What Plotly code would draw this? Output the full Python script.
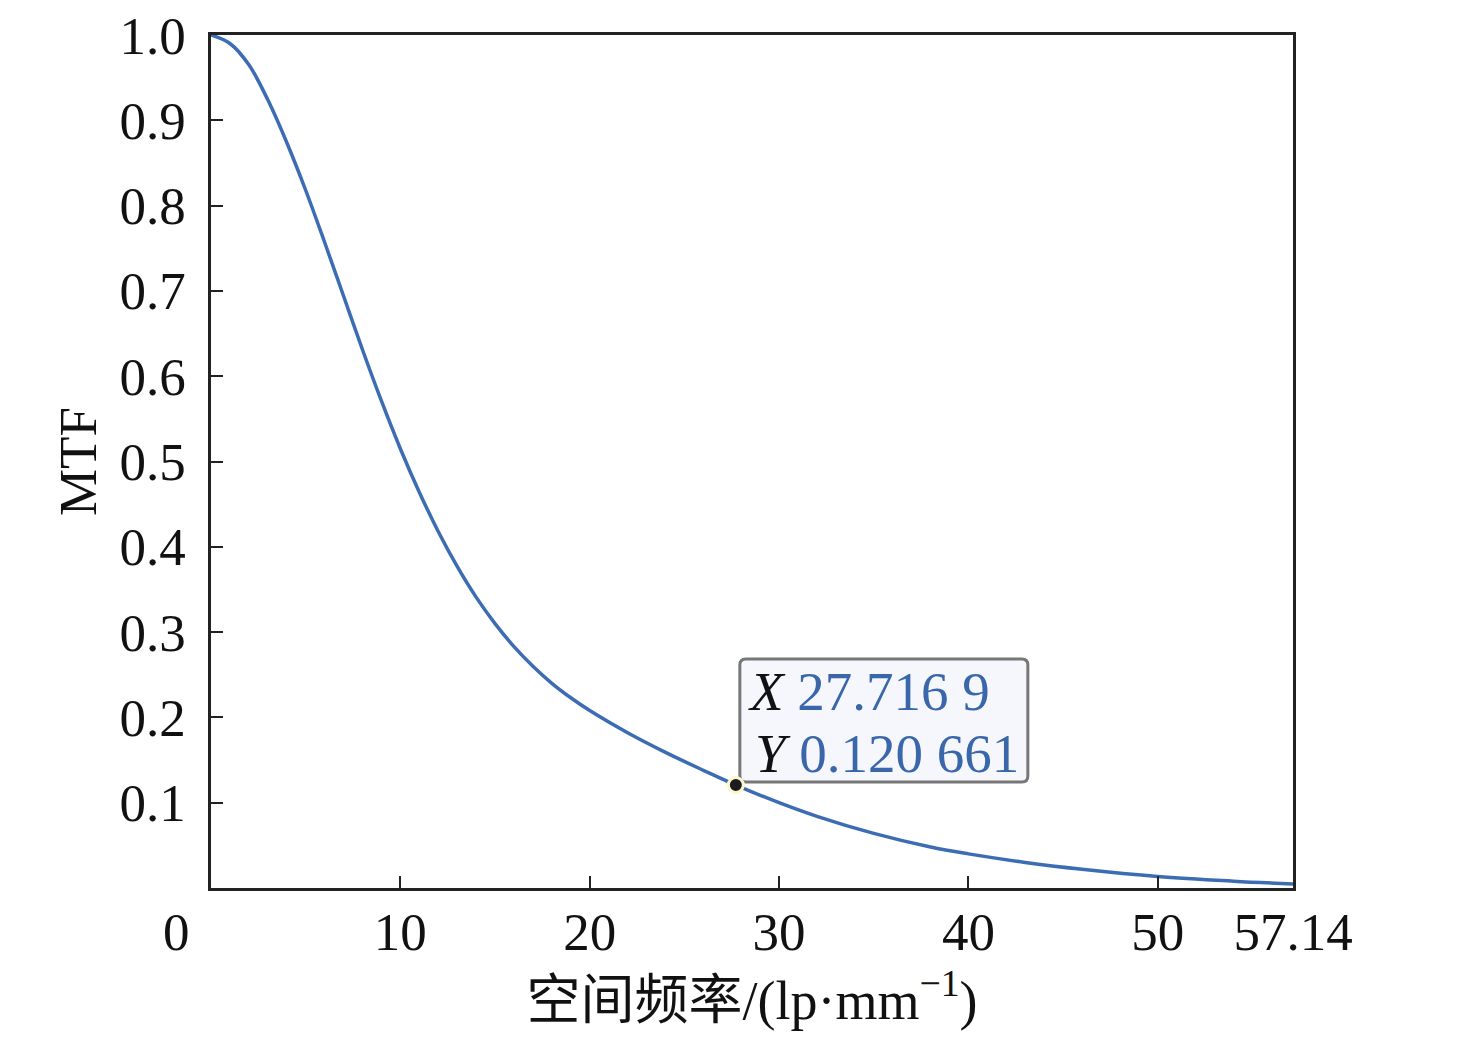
import plotly.graph_objects as go

# MTF curve
freq = [0, 1, 2, 3, 4, 5, 6, 7, 8, 9, 10, 11, 12, 13, 14, 15, 16, 17, 18, 19, 20,
        22, 24, 26, 27.7169, 30, 32, 35, 38, 40, 43, 46, 50, 54, 57.14]
mtf = [1.000, 0.990, 0.965, 0.924, 0.874, 0.818, 0.757, 0.694, 0.631, 0.571, 0.515,
       0.464, 0.418, 0.377, 0.341, 0.310, 0.283, 0.260, 0.240, 0.223, 0.208,
       0.182, 0.159, 0.138, 0.120661, 0.100, 0.084, 0.064, 0.048, 0.040, 0.030,
       0.022, 0.0135, 0.008, 0.0047]

# picked point shown in the data tip
pick_x = 27.7169
pick_y = 0.120661
pick_x_text = "27.716 9"
pick_y_text = "0.120 661"

x_ticks = [10, 20, 30, 40, 50, 57.14]
x_tick_text = ["10", "20", "30", "40", "50", "57.14"]
y_ticks = [0.1, 0.2, 0.3, 0.4, 0.5, 0.6, 0.7, 0.8, 0.9, 1.0]
y_tick_text = ["0.1", "0.2", "0.3", "0.4", "0.5", "0.6", "0.7", "0.8", "0.9", "1.0"]

serif = "Liberation Serif, Times New Roman, Noto Sans CJK SC, serif"
blue = "#3c6cb3"
num_blue = "#3a67aa"
ink = "#111111"

fig = go.Figure()

fig.add_trace(go.Scatter(
    x=freq, y=mtf, mode="lines",
    line=dict(color=blue, width=3.5, shape="spline", smoothing=1.0),
    showlegend=False, hoverinfo="skip",
))

fig.add_trace(go.Scatter(
    x=[pick_x], y=[pick_y], mode="markers",
    marker=dict(size=15, color="#1c1c1c", line=dict(color="#fbf8cf", width=3)),
    showlegend=False, hoverinfo="skip",
))

# data tip box, rounded, anchored at the picked point (pixel offsets)
fig.add_shape(
    type="path", layer="below",
    xref="x", yref="y", xsizemode="pixel", ysizemode="pixel",
    xanchor=pick_x, yanchor=pick_y,
    path="M 4,9 Q 4,3 10,3 L 286,3 Q 292,3 292,9 L 292,120 Q 292,126 286,126 "
         "L 10,126 Q 4,126 4,120 Z",
    line=dict(color="#777777", width=3),
    fillcolor="#f6f7fd",
)

fig.add_annotation(
    x=pick_x, y=pick_y, xref="x", yref="y",
    text=f"<i>X</i> <span style='color:{num_blue}'>{pick_x_text}</span>",
    showarrow=False, xanchor="left", yanchor="middle",
    xshift=10, yshift=94,
    font=dict(family=serif, size=55, color=ink),
)
fig.add_annotation(
    x=pick_x, y=pick_y, xref="x", yref="y",
    text=f"<i>Y</i> <span style='color:{num_blue}'>{pick_y_text}</span>",
    showarrow=False, xanchor="left", yanchor="middle",
    xshift=17, yshift=32,
    font=dict(family=serif, size=55, color=ink),
)

# shared origin label sits left of the corner
fig.add_annotation(
    x=0, y=0, xref="x", yref="y", text="0", showarrow=False,
    xanchor="center", yanchor="middle", xshift=-35, yshift=-44,
    font=dict(family=serif, size=53, color=ink),
)

fig.update_xaxes(
    range=[0, 57.14], tickmode="array", tickvals=x_ticks, ticktext=x_tick_text,
    ticks="inside", ticklen=12, tickwidth=2, tickcolor="#222222",
    showline=True, linecolor="#222222", linewidth=2.5, mirror=True,
    showgrid=False, zeroline=False, ticklabelstandoff=-4,
    ticklabeloverflow="allow", automargin=False,
    tickfont=dict(family=serif, size=53, color=ink),
    title=dict(text="空间频率/(lp·mm<sup>−1</sup>)", standoff=24,
               font=dict(family=serif, size=54, color=ink)),
)
fig.update_yaxes(
    range=[0, 1.0], tickmode="array", tickvals=y_ticks, ticktext=y_tick_text,
    ticks="inside", ticklen=12, tickwidth=2, tickcolor="#222222",
    showline=True, linecolor="#222222", linewidth=2.5, mirror=True,
    showgrid=False, zeroline=False, ticklabelstandoff=12,
    ticklabeloverflow="allow", automargin=False,
    tickfont=dict(family=serif, size=53, color=ink),
    title=dict(text="MTF", standoff=6,
               font=dict(family=serif, size=53, color=ink)),
)

# page body has an 8 px margin, so the figure is a little smaller than the window
fig.update_layout(
    width=1460, height=1023,
    margin=dict(l=203, r=175, t=27, b=143),
    paper_bgcolor="white", plot_bgcolor="white",
)

fig.write_html("out.html")
